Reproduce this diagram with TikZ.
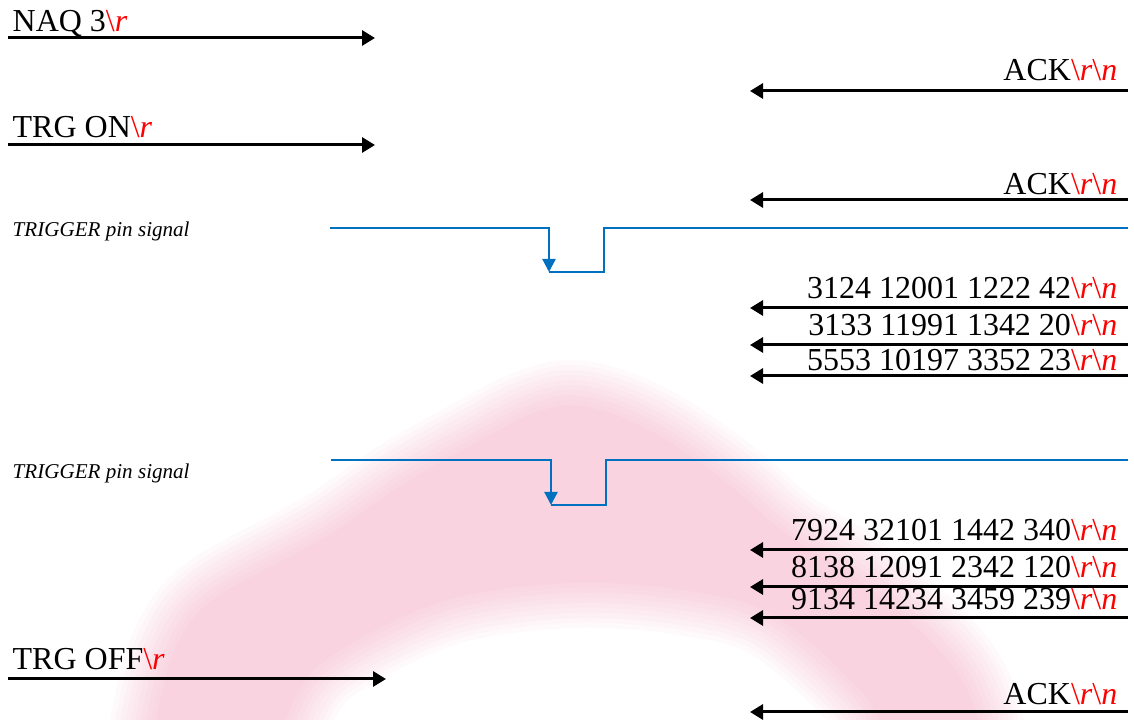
\documentclass[tikz,border=0pt]{standalone}
\usepackage{fontspec}
\setmainfont{Liberation Serif}
\usepackage{xcolor}
\usepackage{tikz}
\usetikzlibrary{arrows.meta}

\definecolor{sigblue}{RGB}{0,112,192}
\definecolor{blush}{RGB}{240,150,180}
\newcommand{\crr}{\textcolor{red}{\textbackslash\textit{r}}}
\newcommand{\crn}{\textcolor{red}{\textbackslash\textit{r}\textbackslash\textit{n}}}

\begin{document}
\begin{tikzpicture}[
		every node/.style={inner sep=0pt, font=\fontsize{9.1}{11}\selectfont},
		msg/.style={black, line width=0.85pt, -{Triangle[length=1.3mm, width=1.5mm]}},
		sig/.style={sigblue, line width=0.65pt},
		cmd/.style={anchor=base west},
		reply/.style={anchor=base east},
		pinlabel/.style={anchor=west, font=\fontsize{6}{7}\selectfont\itshape}
	]
	\useasboundingbox (0,0) rectangle (11.34,-7.2);
	
	%Watermark
	\begin{scope}
		\clip (0,0) rectangle (11.34,-7.2);
		\foreach \w in {0.1,0.2,...,1.0}{
			\begin{scope}[transparency group, opacity=0.052]
				\filldraw[blush, line width=\w cm, line join=round]
					plot[smooth, tension=0.55] coordinates {(1.58,-7.6) (1.61,-7.2) (1.80,-6.5) (2.18,-6.02) (3.30,-5.40) (4.06,-4.88) (4.80,-4.46) (5.30,-4.20) (5.71,-4.10) (6.15,-4.20) (6.65,-4.45) (7.29,-4.91) (7.82,-5.37) (8.50,-5.80) (9.12,-6.30) (9.53,-6.75) (9.73,-7.2) (9.77,-7.6)}
					-- plot[smooth, tension=0.55] coordinates {(8.90,-7.6) (8.72,-6.97) (7.78,-6.12) (6.90,-5.86) (5.71,-5.78) (4.40,-5.97) (3.20,-6.58) (2.80,-7.2) (2.78,-7.6)}
					-- cycle;
			\end{scope}
		}
	\end{scope}
	
	%Commands
	\coordinate (naqS) at (0.08,-0.38);
	\coordinate (naqE) at (3.75,-0.38);
	\draw[msg] (naqS) -- (naqE);
	\node[cmd] (naq) at (0.12,-0.32) {NAQ 3\crr};
	
	\coordinate (onS) at (0.08,-1.45);
	\coordinate (onE) at (3.75,-1.45);
	\draw[msg] (onS) -- (onE);
	\node[cmd] (trgon) at (0.12,-1.38) {TRG ON\crr};
	
	\coordinate (offS) at (0.08,-6.79);
	\coordinate (offE) at (3.86,-6.79);
	\draw[msg] (offS) -- (offE);
	\node[cmd] (trgoff) at (0.12,-6.70) {TRG OFF\crr};
	
	%Replies
	\coordinate (ackaS) at (11.28,-0.91);
	\coordinate (ackaE) at (7.50,-0.91);
	\draw[msg] (ackaS) -- (ackaE);
	\node[reply] (acka) at (11.18,-0.81) {ACK\crn};
	
	\coordinate (ackbS) at (11.28,-2.00);
	\coordinate (ackbE) at (7.50,-2.00);
	\draw[msg] (ackbS) -- (ackbE);
	\node[reply] (ackb) at (11.18,-1.95) {ACK\crn};
	
	\coordinate (ackcS) at (11.28,-7.12);
	\coordinate (ackcE) at (7.50,-7.12);
	\draw[msg] (ackcS) -- (ackcE);
	\node[reply] (ackc) at (11.18,-7.05) {ACK\crn};
	
	%Data
	\coordinate (daS) at (11.28,-3.08);
	\coordinate (daE) at (7.50,-3.08);
	\draw[msg] (daS) -- (daE);
	\node[reply] (dataa) at (11.18,-2.99) {3124 12001 1222 42\crn};
	
	\coordinate (dbS) at (11.28,-3.45);
	\coordinate (dbE) at (7.50,-3.45);
	\draw[msg] (dbS) -- (dbE);
	\node[reply] (datab) at (11.18,-3.36) {3133 11991 1342 20\crn};
	
	\coordinate (dcS) at (11.28,-3.76);
	\coordinate (dcE) at (7.50,-3.76);
	\draw[msg] (dcS) -- (dcE);
	\node[reply] (datac) at (11.18,-3.71) {5553 10197 3352 23\crn};
	
	\coordinate (ddS) at (11.28,-5.50);
	\coordinate (ddE) at (7.50,-5.50);
	\draw[msg] (ddS) -- (ddE);
	\node[reply] (datad) at (11.18,-5.41) {7924 32101 1442 340\crn};
	
	\coordinate (deS) at (11.28,-5.87);
	\coordinate (deE) at (7.50,-5.87);
	\draw[msg] (deS) -- (deE);
	\node[reply] (datae) at (11.18,-5.78) {8138 12091 2342 120\crn};
	
	\coordinate (dfS) at (11.28,-6.18);
	\coordinate (dfE) at (7.50,-6.18);
	\draw[msg] (dfS) -- (dfE);
	\node[reply] (dataf) at (11.18,-6.10) {9134 14234 3459 239\crn};
	
	%Trigger pulses
	\node[pinlabel] (pina) at (0.12,-2.31) {TRIGGER pin signal};
	\coordinate (pulaS) at (3.30,-2.28);
	\coordinate (pulaB) at (5.49,-2.72);
	\coordinate (pulaE) at (11.28,-2.28);
	\draw[sig, -{Triangle[length=1.3mm, width=1.3mm]}] (pulaS) -| (pulaB);
	\draw[sig] (pulaB) -- ++(0.55,0) |- (pulaE);
	
	\node[pinlabel] (pinb) at (0.12,-4.73) {TRIGGER pin signal};
	\coordinate (pulbS) at (3.31,-4.60);
	\coordinate (pulbB) at (5.51,-5.05);
	\coordinate (pulbE) at (11.28,-4.60);
	\draw[sig, -{Triangle[length=1.3mm, width=1.3mm]}] (pulbS) -| (pulbB);
	\draw[sig] (pulbB) -- ++(0.55,0) |- (pulbE);
\end{tikzpicture}
\end{document}
